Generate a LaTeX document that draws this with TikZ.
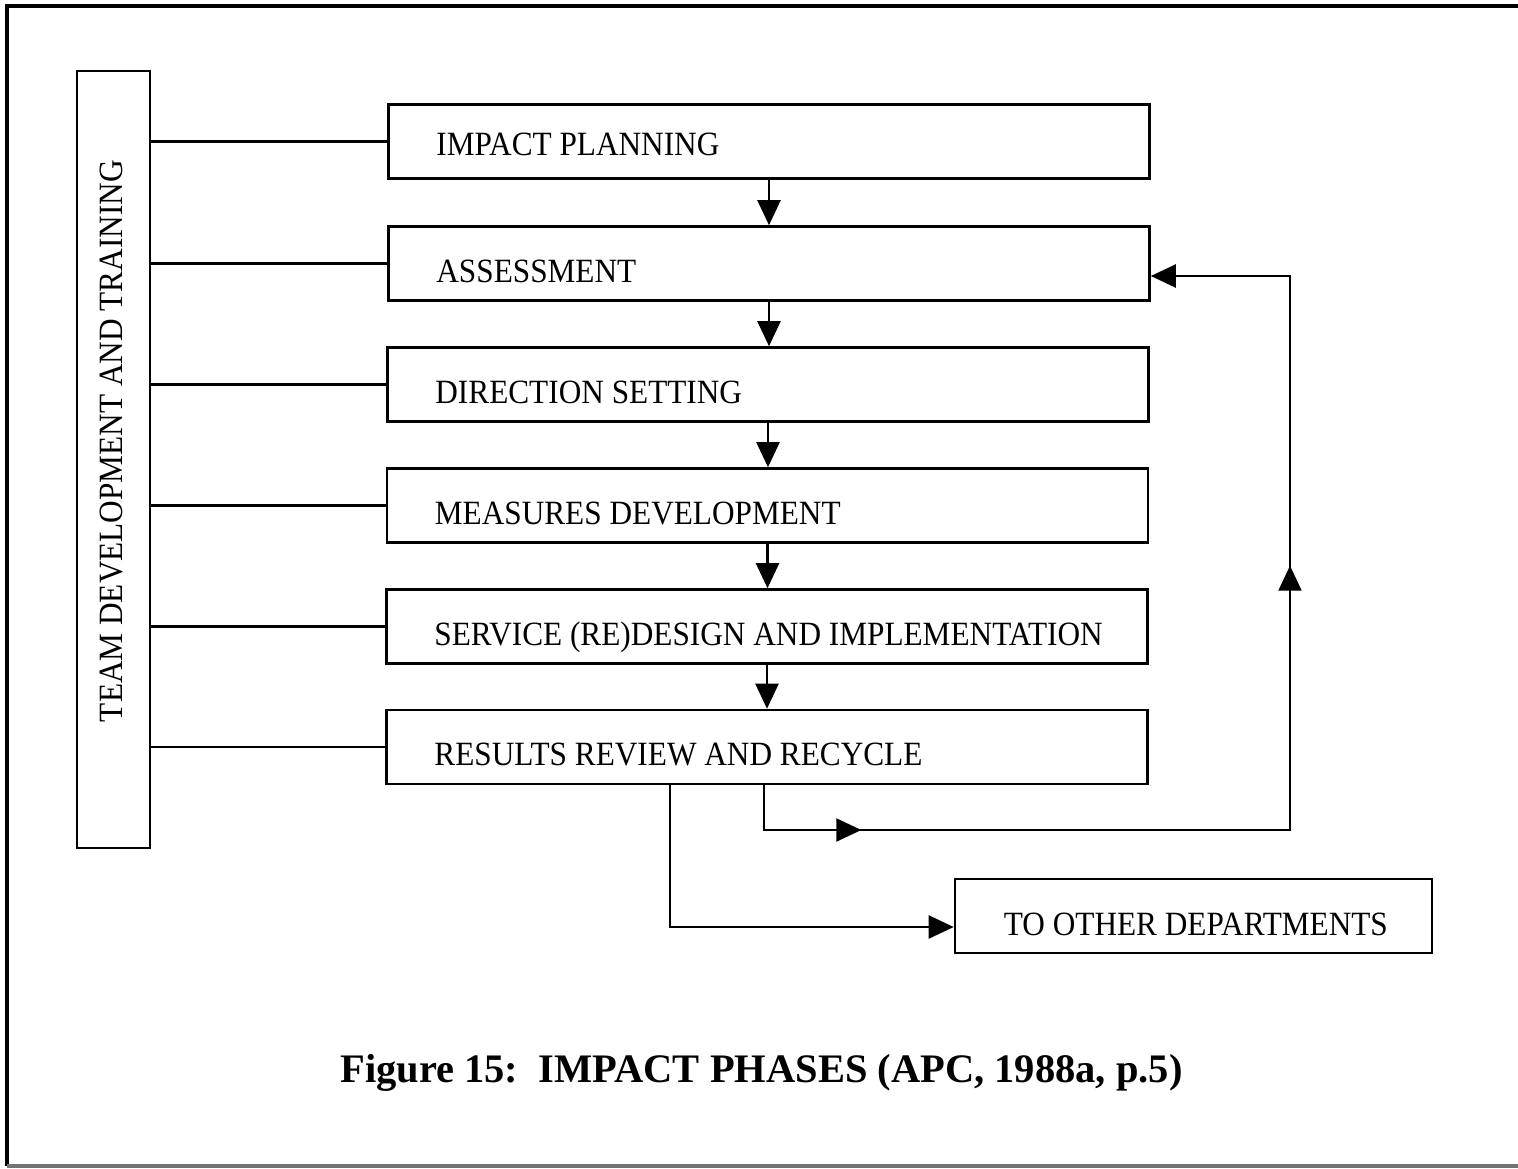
\documentclass[tikz,border=0pt]{standalone}
\usepackage{fontspec}
\setmainfont{Liberation Serif}
\newfontfamily\boxfont[FakeStretch=0.92]{Liberation Serif}
\usetikzlibrary{arrows.meta,calc,decorations.markings}

\begin{document}
\begin{tikzpicture}[x=1pt,y=-1pt,
  phase/.style={draw, line width=2.6pt, minimum width=761pt, minimum height=74pt, inner sep=0pt},
  lbl/.style={font=\boxfont\fontsize{34}{40}\selectfont, inner sep=0pt, anchor=base west},
  link/.style={line width=2.2pt},
  tip/.style={-{Triangle[length=25pt,width=23pt]}},
  frameline/.style={line width=3.2pt}
]
\useasboundingbox (0,0) rectangle (1518,1168);

% page frame
\draw[frameline] (1518,6) -- (7,6) -- (7,1166);
\draw[frameline, black!55] (7,1166) -- (1518,1166);

% side bar
\node[draw, line width=2.6pt, minimum width=73pt, minimum height=777pt, inner sep=0pt] (team) at (113.5,459.5) {};
\node[font=\boxfont\fontsize{34}{40}\selectfont, inner sep=0pt, rotate=90, anchor=base] (teamtxt) at (122,441) {TEAM DEVELOPMENT AND TRAINING};

% phases
\node[phase] (b1) at (769,141.5) {};
\node[phase] (b2) at (769,263.5) {};
\node[phase] (b3) at (768,384.5) {};
\node[phase] (b4) at (767.5,505.5) {};
\node[phase] (b5) at (767,626.5) {};
\node[phase] (b6) at (767,747) {};

\node[lbl] (t1) at ($(b1.west)+(49,13.5)$) {IMPACT PLANNING};
\node[lbl] (t2) at ($(b2.west)+(49,19)$) {ASSESSMENT};
\node[lbl] (t3) at ($(b3.west)+(49,18.5)$) {DIRECTION SETTING};
\node[lbl] (t4) at ($(b4.west)+(49,18.5)$) {MEASURES DEVELOPMENT};
\node[lbl] (t5) at ($(b5.west)+(49,18.5)$) {SERVICE (RE)DESIGN AND IMPLEMENTATION};
\node[lbl] (t6) at ($(b6.west)+(49,18.5)$) {RESULTS REVIEW AND RECYCLE};

% links from the side bar
\foreach \b in {b1,b2,b3,b4,b5,b6}
  \draw[link] (team.east |- \b.west) -- (\b.west);

% phase sequence
\draw[link,tip] (b1.south) -- (b1.south |- b2.north);
\draw[link,tip] (b2.south) -- (b2.south |- b3.north);
\draw[link,tip] (b3.south) -- (b3.south |- b4.north);
\draw[link,tip] (b4.south) -- (b4.south |- b5.north);
\draw[link,tip] (b5.south) -- (b5.south |- b6.north);

% recycle loop back to assessment
\coordinate (fbA) at (764,830);
\coordinate (fbB) at (1290,830);
\coordinate (fbC) at (1290,276);
\draw[link,tip,
  decoration={markings,
    mark=at position 142pt with {\arrow{Triangle[length=25pt,width=23pt]}},
    mark=at position 835pt with {\arrow{Triangle[length=25pt,width=23pt]}}},
  postaction={decorate}]
  (b6.south -| fbA) -- (fbA) -- (fbB) -- (fbC) -- (b2.east |- fbC);

% output to other departments
\node[draw, line width=2.6pt, minimum width=477pt, minimum height=74pt, inner sep=0pt] (other) at (1193.5,916) {};
\node[lbl] (tother) at ($(other.west)+(50,19)$) {TO OTHER DEPARTMENTS};
\coordinate (ob) at (670,927);
\draw[link,tip] (b6.south -| ob) -- (ob) -- (other.west |- ob);

% caption
\node[font=\bfseries\fontsize{40.5}{48}\selectfont, inner sep=0pt, anchor=base] (cap) at (761.5,1082) {Figure 15:\ \ IMPACT PHASES (APC, 1988a, p.5)};
\end{tikzpicture}
\end{document}
